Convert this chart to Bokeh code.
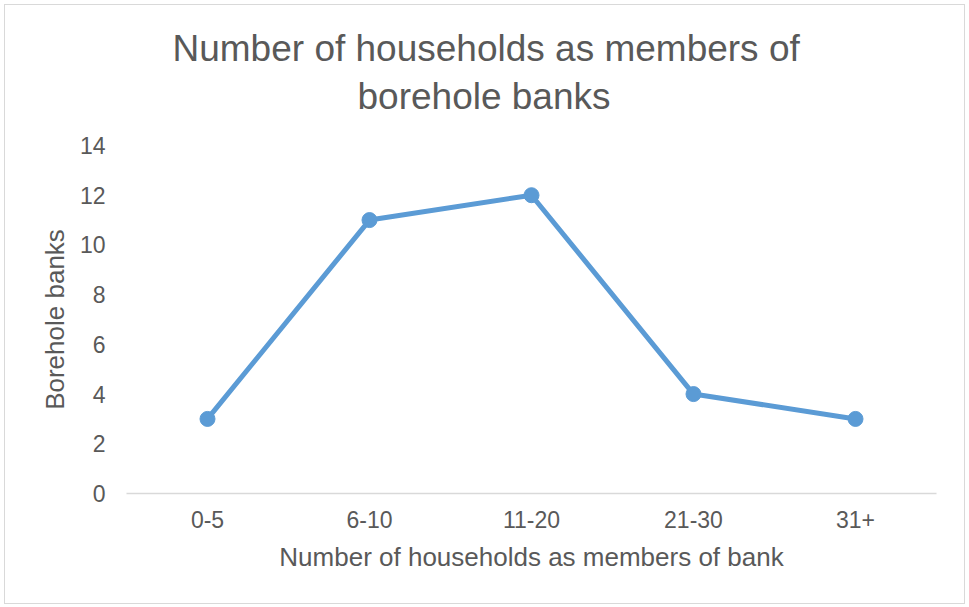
from bokeh.plotting import figure
from bokeh.models import Range1d, FixedTicker, ColumnDataSource, Title
from bokeh.embed import file_html
from bokeh.resources import INLINE

categories = ["0-5", "6-10", "11-20", "21-30", "31+"]
borehole_banks = [3, 11, 12, 4, 3]
y_ticks = [0, 2, 4, 6, 8, 10, 12, 14]

title_lines = ["Number of households as members of", "borehole banks"]
x_label = "Number of households as members of bank"
y_label = "Borehole banks"

FONT = "Liberation Sans"
TEXT = "#595959"
BLUE = "#5B9BD5"

src = ColumnDataSource(dict(x=categories, y=borehole_banks))

p = figure(width=959, height=598, x_range=categories, y_range=Range1d(0, 14),
           output_backend="svg", toolbar_location=None,
           min_border_left=121, min_border_right=28,
           min_border_top=140, min_border_bottom=110)
p.styles = {"outline": "1px solid #D9D9D9", "margin-left": "5px", "margin-top": "5px"}
p.outline_line_color = None
p.xgrid.visible = False
p.ygrid.visible = False

# title panels stack outward from the frame: spacer, line 2, line 1
for txt, stand, off in [(" ", -14, 0), (title_lines[1], 0, 231), (title_lines[0], 9, 46)]:
    t = Title(text=txt, align="left", offset=off, standoff=stand,
              text_font=FONT, text_font_size="37px", text_font_style="normal",
              text_color=TEXT)
    p.add_layout(t, "above")

p.line("x", "y", source=src, line_color=BLUE, line_width=5)
p.scatter("x", "y", source=src, size=15, fill_color=BLUE, line_color=BLUE)

xa = p.xaxis[0]
xa.axis_line_color = "#D9D9D9"
xa.axis_line_width = 1.5
xa.major_tick_line_color = None
xa.minor_tick_line_color = None
xa.major_tick_out = 0
xa.major_tick_in = 0
xa.major_label_standoff = 17
xa.major_label_text_font = FONT
xa.major_label_text_font_size = "23px"
xa.major_label_text_color = TEXT
xa.axis_label = x_label
xa.axis_label_text_font = FONT
xa.axis_label_text_font_size = "26px"
xa.axis_label_text_font_style = "normal"
xa.axis_label_text_color = TEXT
xa.axis_label_standoff = 11

ya = p.yaxis[0]
ya.ticker = FixedTicker(ticks=y_ticks)
ya.axis_line_color = None
ya.major_tick_line_color = None
ya.minor_tick_line_color = None
ya.major_tick_out = 0
ya.major_tick_in = 0
ya.major_label_standoff = 21
ya.major_label_text_font = FONT
ya.major_label_text_font_size = "23px"
ya.major_label_text_color = TEXT
ya.axis_label = y_label
ya.axis_label_text_font = FONT
ya.axis_label_text_font_size = "26px"
ya.axis_label_text_font_style = "normal"
ya.axis_label_text_color = TEXT
ya.axis_label_standoff = 7

open("out.html", "w").write(file_html(p, INLINE))
